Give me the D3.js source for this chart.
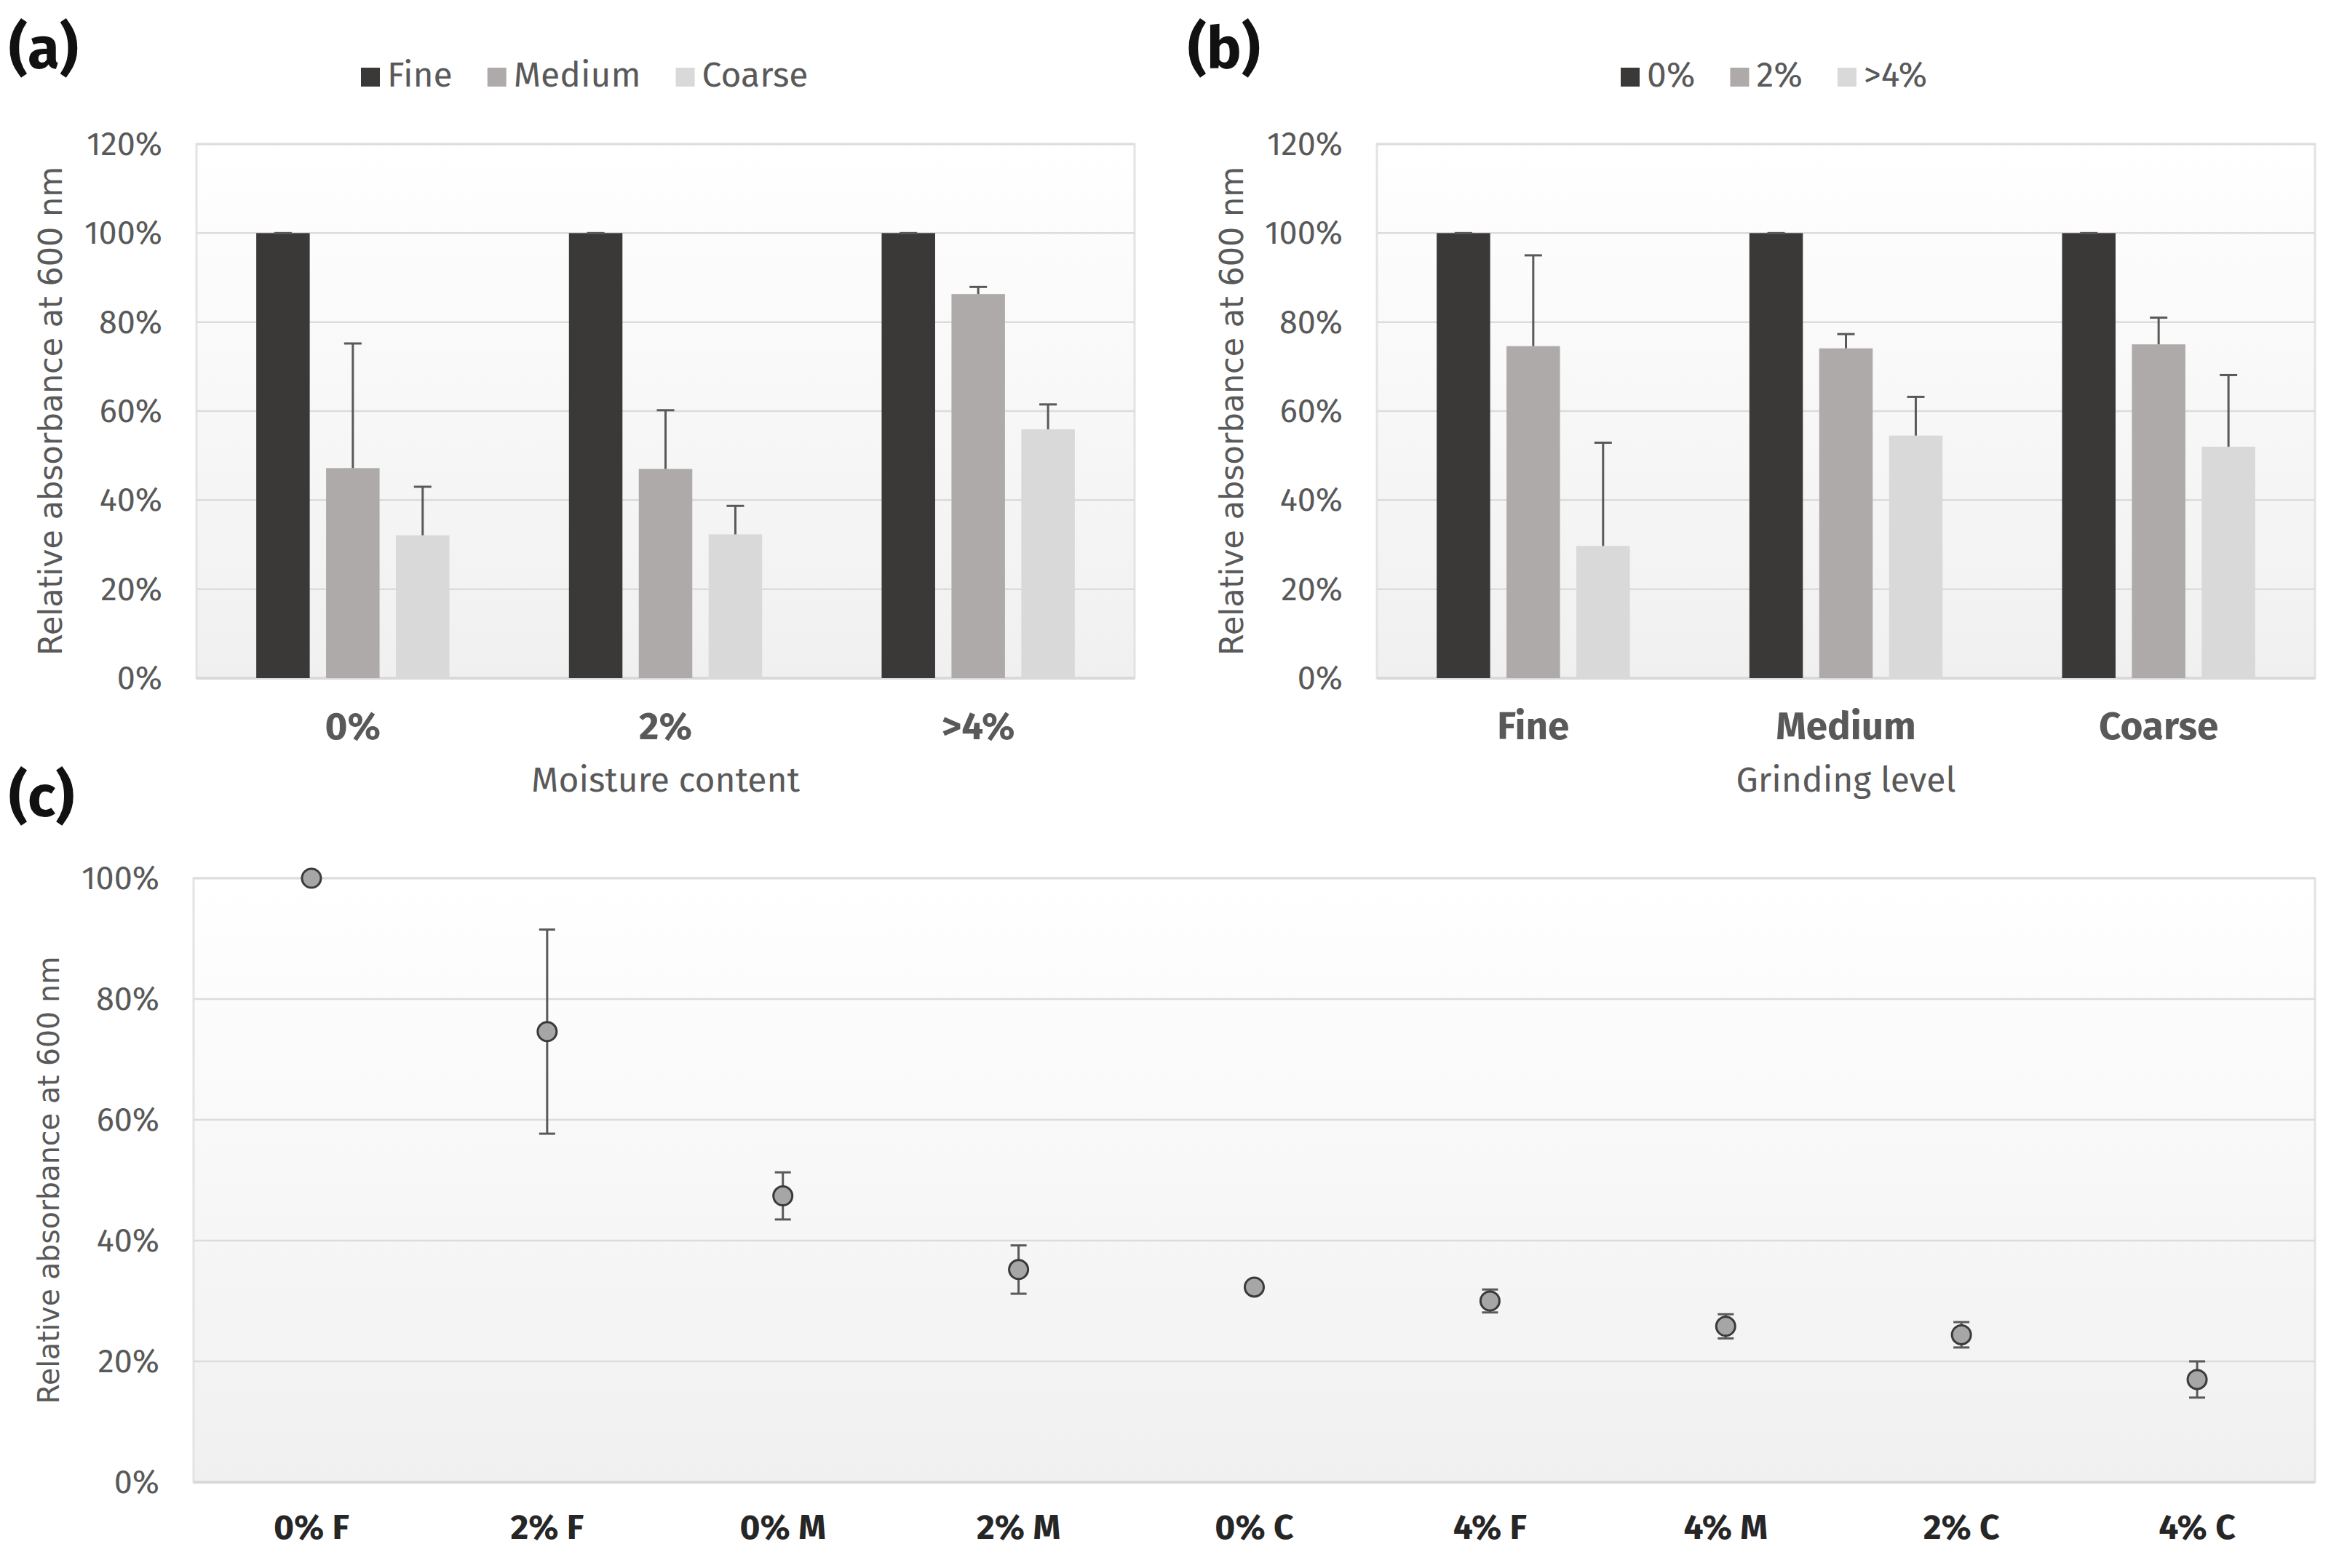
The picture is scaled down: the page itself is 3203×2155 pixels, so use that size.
<!DOCTYPE html>
<html>
<head>
<meta charset="utf-8">
<script src="https://cdn.jsdelivr.net/npm/d3@7"></script>
<style>
  body { margin: 0; background: #fff; }
  text { font-family: 'Fira Sans', Roboto, sans-serif; }
  text.ytitle { font-family: 'DejaVu Sans', 'Open Sans', 'Noto Sans', sans-serif; }
</style>
</head>
<body>
<script>
// panel (a): moisture content groups, one series per grinding level
var moistureCats = ["0%", "2%", ">4%"];
var grindNames = ["Fine", "Medium", "Coarse"];
var aFine = [1.00, 1.00, 1.00];
var aMedium = [0.472, 0.470, 0.863];
var aCoarse = [0.321, 0.323, 0.559];
var aFineErr = [0, 0, 0];
var aMediumErr = [0.280, 0.132, 0.016];
var aCoarseErr = [0.109, 0.064, 0.056];

// panel (b): grinding level groups, one series per moisture content
var grindCats = ["Fine", "Medium", "Coarse"];
var moistureNames = ["0%", "2%", ">4%"];
var b0 = [1.00, 1.00, 1.00];
var b2 = [0.746, 0.741, 0.750];
var b4 = [0.297, 0.545, 0.520];
var b0Err = [0, 0, 0];
var b2Err = [0.204, 0.032, 0.060];
var b4Err = [0.232, 0.087, 0.161];

// panel (c): combined treatments
var cCats = ["0% F", "2% F", "0% M", "2% M", "0% C", "4% F", "4% M", "2% C", "4% C"];
var cValues = [1.00, 0.746, 0.474, 0.352, 0.323, 0.300, 0.258, 0.244, 0.170];
var cErr = [0, 0.169, 0.039, 0.040, 0, 0.019, 0.020, 0.021, 0.030];

var barTicks = [0, 0.2, 0.4, 0.6, 0.8, 1.0, 1.2];
var dotTicks = [0, 0.2, 0.4, 0.6, 0.8, 1.0];

var seriesColors = ["#3b3838", "#aeaaaa", "#d9d9d9"];
var textGray = "#595959";
var pct = d3.format(".0%");

var svg = d3.select("body").append("svg")
    .attr("width", 3203).attr("height", 2155);

var defs = svg.append("defs");
var grad = defs.append("linearGradient").attr("id", "plotbg")
    .attr("x1", 0).attr("y1", 0).attr("x2", 0).attr("y2", 1);
grad.append("stop").attr("offset", "0%").attr("stop-color", "#ffffff");
grad.append("stop").attr("offset", "100%").attr("stop-color", "#f0f0f0");

function plotFrame(g, w, h, y, ticks) {
    g.append("rect").attr("width", w).attr("height", h)
        .attr("fill", "url(#plotbg)").attr("stroke", "#e3e3e3").attr("stroke-width", 3);
    g.append("g").selectAll("line").data(ticks).enter().append("line")
        .attr("x1", 0).attr("x2", w)
        .attr("y1", function(d) { return y(d); })
        .attr("y2", function(d) { return y(d); })
        .attr("stroke", "#dcdcdc").attr("stroke-width", 2.5);
    g.append("line").attr("x1", 0).attr("x2", w).attr("y1", h).attr("y2", h)
        .attr("stroke", "#d9d9d9").attr("stroke-width", 4);

    var ax = g.append("g").call(d3.axisLeft(y).tickValues(ticks).tickFormat(pct)
        .tickSize(0).tickPadding(47));
    ax.select(".domain").remove();
    ax.selectAll("text").attr("font-size", 45).attr("fill", textGray)
        .style("font-family", "'Fira Sans', Roboto, sans-serif");
}

function yTitle(x, y, size, len) {
    svg.append("text").attr("class", "ytitle")
        .attr("transform", "translate(" + x + "," + y + ") rotate(-90)")
        .attr("text-anchor", "middle").attr("dominant-baseline", "central")
        .attr("font-size", size).attr("fill", textGray)
        .attr("textLength", len).attr("lengthAdjust", "spacingAndGlyphs")
        .text("Relative absorbance at 600 nm");
}

function panelLabel(x, y, s) {
    svg.append("text").attr("x", x).attr("y", y)
        .attr("font-size", 80).attr("font-weight", "bold").attr("fill", "#111")
        .text(s);
}

function legend(x, y, names) {
    var lg = svg.append("g").attr("transform", "translate(" + x + "," + y + ")");
    var cx = 0;
    names.forEach(function(n, i) {
        lg.append("rect").attr("x", cx).attr("y", -26).attr("width", 26).attr("height", 26)
            .attr("fill", seriesColors[i]);
        var t = lg.append("text").attr("x", cx + 36).attr("y", 0)
            .attr("font-size", 48).attr("fill", textGray).text(n);
        cx += 36 + t.node().getComputedTextLength() + 48;
    });
}

function barPanel(left, top, w, h, cats, names, series, errs, axisTitle) {
    var g = svg.append("g").attr("transform", "translate(" + left + "," + top + ")");
    var y = d3.scaleLinear().domain([0, 1.2]).range([h, 0]);
    var x0 = d3.scaleBand().domain(cats).range([0, w]).paddingInner(0.33).paddingOuter(0.165);
    var x1 = d3.scaleBand().domain(names).range([0, x0.bandwidth()])
        .paddingInner(0.234).paddingOuter(0.117);

    plotFrame(g, w, h, y, barTicks);

    var rows = [];
    cats.forEach(function(c, ci) {
        names.forEach(function(n, si) {
            rows.push({cat: c, name: n, si: si, v: series[si][ci], e: errs[si][ci]});
        });
    });

    g.append("g").selectAll("rect").data(rows).enter().append("rect")
        .attr("x", function(d) { return x0(d.cat) + x1(d.name); })
        .attr("width", x1.bandwidth())
        .attr("y", function(d) { return y(d.v); })
        .attr("height", function(d) { return h - y(d.v); })
        .attr("fill", function(d) { return seriesColors[d.si]; });

    var eb = g.append("g").attr("stroke", "#595959").attr("stroke-width", 3)
        .selectAll("g").data(rows).enter().append("g")
        .attr("transform", function(d) {
            return "translate(" + (x0(d.cat) + x1(d.name) + x1.bandwidth() / 2) + ",0)";
        });
    eb.append("line").attr("x1", 0).attr("x2", 0)
        .attr("y1", function(d) { return y(d.v); })
        .attr("y2", function(d) { return y(d.v + d.e); });
    eb.append("line").attr("x1", -12).attr("x2", 12)
        .attr("y1", function(d) { return y(d.v + d.e); })
        .attr("y2", function(d) { return y(d.v + d.e); });

    var bx = g.append("g").attr("transform", "translate(0," + h + ")")
        .call(d3.axisBottom(x0).tickSize(0).tickPadding(46));
    bx.select(".domain").remove();
    bx.selectAll("text").attr("font-size", 53).attr("font-weight", "bold").attr("fill", textGray)
        .style("font-family", "'Fira Sans', Roboto, sans-serif");

    g.append("text").attr("x", w / 2).attr("y", h + 156).attr("text-anchor", "middle")
        .attr("font-size", 48).attr("fill", textGray).text(axisTitle);
}

// (a)
panelLabel(12, 94, "(a)");
legend(496, 119, grindNames);
yTitle(69, 565, 44, 672);
barPanel(270, 198, 1289, 734, moistureCats, grindNames,
    [aFine, aMedium, aCoarse], [aFineErr, aMediumErr, aCoarseErr], "Moisture content");

// (b)
panelLabel(1632, 94, "(b)");
legend(2227, 119, moistureNames);
yTitle(1692, 565, 44, 672);
barPanel(1892, 198, 1289, 734, grindCats, moistureNames,
    [b0, b2, b4], [b0Err, b2Err, b4Err], "Grinding level");

// (c)
panelLabel(12, 1122, "(c)");
yTitle(67, 1622, 41, 615);
(function() {
    var left = 266, top = 1207, w = 2915, h = 830;
    var g = svg.append("g").attr("transform", "translate(" + left + "," + top + ")");
    var y = d3.scaleLinear().domain([0, 1]).range([h, 0]);
    var x = d3.scaleBand().domain(cCats).range([0, w]);
    plotFrame(g, w, h, y, dotTicks);

    var pts = cCats.map(function(c, i) { return {cat: c, v: cValues[i], e: cErr[i]}; });
    var cx = function(d) { return x(d.cat) + x.bandwidth() / 2; };

    var eb = g.append("g").attr("stroke", "#595959").attr("stroke-width", 3)
        .selectAll("g").data(pts.filter(function(d) { return d.e > 0; })).enter().append("g")
        .attr("transform", function(d) { return "translate(" + cx(d) + ",0)"; });
    eb.append("line").attr("x1", 0).attr("x2", 0)
        .attr("y1", function(d) { return y(d.v - d.e); })
        .attr("y2", function(d) { return y(d.v + d.e); });
    eb.append("line").attr("x1", -11).attr("x2", 11)
        .attr("y1", function(d) { return y(d.v + d.e); })
        .attr("y2", function(d) { return y(d.v + d.e); });
    eb.append("line").attr("x1", -11).attr("x2", 11)
        .attr("y1", function(d) { return y(d.v - d.e); })
        .attr("y2", function(d) { return y(d.v - d.e); });

    g.append("g").selectAll("circle").data(pts).enter().append("circle")
        .attr("cx", cx).attr("cy", function(d) { return y(d.v); })
        .attr("r", 13).attr("fill", "#a6a6a6")
        .attr("stroke", "#3a3a3a").attr("stroke-width", 3);

    var bx = g.append("g").attr("transform", "translate(0," + h + ")")
        .call(d3.axisBottom(x).tickSize(0).tickPadding(44));
    bx.select(".domain").remove();
    bx.selectAll("text").attr("font-size", 48).attr("font-weight", "bold").attr("fill", "#262626")
        .style("font-family", "'Fira Sans', Roboto, sans-serif");
})();
</script>
</body>
</html>
